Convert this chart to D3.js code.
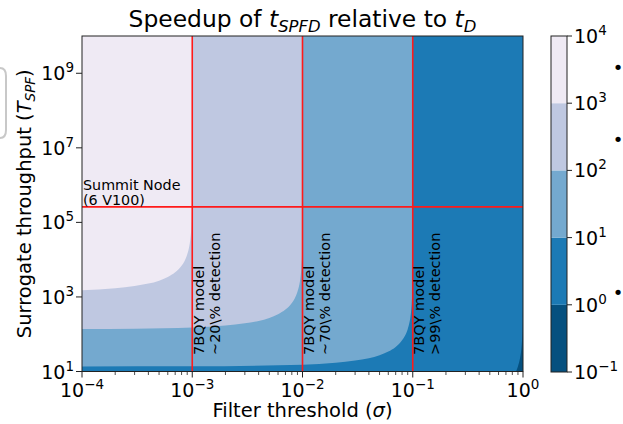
<!DOCTYPE html>
<html><head><meta charset="utf-8">
<script src="https://cdn.jsdelivr.net/npm/d3@7"></script>
<style>body{margin:0;background:#fff} svg{display:block;font-family:"DejaVu Sans",sans-serif}</style>
</head><body><svg id="c" width="623" height="424"></svg>
<script>
// ---- data ----
const levels = [1e-1, 1e0, 1e1, 1e2, 1e3, 1e4];
const bandColors = ["#05507f", "#1c7ab5", "#74a9cf", "#bfc8e1", "#efeaf4"];
const xTicks = [1e-4, 1e-3, 1e-2, 1e-1, 1e0];
const xTickExp = ["−4", "−3", "−2", "−1", "0"];
const yTicks = [1e1, 1e3, 1e5, 1e7, 1e9];
const yTickExp = ["1", "3", "5", "7", "9"];
const cbTicks = [1e-1, 1e0, 1e1, 1e2, 1e3, 1e4];
const cbTickExp = ["−1", "0", "1", "2", "3", "4"];
// contour boundaries [sigma, T_SPF] (speedup = level)
const contour1e0 = [[1e-4,1.37],[0.5,2.74],[0.8,6.85],[0.85,9.13],[0.87,10.5],[0.9,13.7],[0.93,19.6],[0.95,27.4],[0.97,45.7],[0.98,68.5],[0.99,137],[0.995,274],[0.998,685],[0.999,1370],[1,1e11]];
const contour1e1 = [[1e-4,13.7],[1e-3,13.8],[1e-2,15.2],[2e-2,17.1],[3e-2,19.6],[4e-2,22.8],[5e-2,27.4],[6e-2,34.3],[7e-2,45.7],[7.5e-2,54.8],[8e-2,68.5],[8.5e-2,91.3],[9e-2,137],[9.3e-2,196],[9.5e-2,274],[9.7e-2,457],[9.8e-2,685],[9.9e-2,1370],[9.95e-2,2740],[9.98e-2,6850],[9.99e-2,13700],[9.999e-2,137000],[1e-1,1e11]];
const contour1e2 = [[1e-4,138],[3e-4,141],[1e-3,152],[2e-3,171],[3e-3,196],[4e-3,228],[5e-3,274],[6e-3,343],[7e-3,457],[7.5e-3,548],[8e-3,685],[8.5e-3,913],[9e-3,1370],[9.3e-3,1960],[9.5e-3,2740],[9.7e-3,4570],[9.8e-3,6850],[9.9e-3,13700],[9.95e-3,27400],[9.98e-3,68500],[9.99e-3,137000],[9.999e-3,1.37e6],[1e-2,1e11]];
const contour1e3 = [[1e-4,1520],[2e-4,1710],[3e-4,1960],[4e-4,2280],[5e-4,2740],[6e-4,3430],[7e-4,4570],[8e-4,6850],[8.5e-4,9130],[9e-4,13700],[9.3e-4,19600],[9.5e-4,27400],[9.7e-4,45700],[9.8e-4,68500],[9.9e-4,137000],[9.95e-4,274000],[9.98e-4,685000],[9.99e-4,1.37e6],[9.995e-4,2.74e6],[9.999e-4,1.37e7],[1e-3,1e11]];
const contours = [contour1e0, contour1e1, contour1e2, contour1e3];
const modelSigmas = [1e-3, 1e-2, 1e-1];
const modelLabels = [["7BQY model", "∼20\\% detection"], ["7BQY model", "∼70\\% detection"], ["7BQY model", ">99\\% detection"]];
const summitT = 2.6e5;
const summitLabel = ["Summit Node", "(6 V100)"];

// ---- layout ----
const svg = d3.select("#c");
const L = 82, R = 523, T = 36, B = 371.5;
const x = d3.scaleLog().domain([1e-4, 1]).range([L, R]);
const y = d3.scaleLog().domain([1e1, 1e10]).range([B, T]);

svg.append("defs").append("clipPath").attr("id", "pc")
  .append("rect").attr("x", L).attr("y", T).attr("width", R - L).attr("height", B - T);

const g = svg.append("g").attr("clip-path", "url(#pc)");
g.append("rect").attr("x", L).attr("y", T).attr("width", R - L).attr("height", B - T).attr("fill", bandColors[0]);
const line = d3.line().x(d => x(d[0])).y(d => Math.max(-1000, Math.min(2000, y(d[1])))).curve(d3.curveMonotoneX);
contours.forEach((c, i) => {
  const p = line(c) + "L" + x(1e-4) + "," + y(1e11) + "Z";
  g.append("path").attr("d", p).attr("fill", bandColors[i + 1]);
});

// red lines
modelSigmas.forEach(s => {
  svg.append("line").attr("x1", x(s)).attr("x2", x(s)).attr("y1", T).attr("y2", B)
    .attr("stroke", "#ff1a1a").attr("stroke-width", 1.6);
});
svg.append("line").attr("x1", L).attr("x2", R).attr("y1", y(summitT)).attr("y2", y(summitT))
  .attr("stroke", "#ff1a1a").attr("stroke-width", 1.6);

// labels
summitLabel.forEach((t, i) => {
  svg.append("text").attr("x", L + 1).attr("y", y(summitT) - 17 + i * 15).attr("font-size", 14.3).text(t);
});
modelSigmas.forEach((s, k) => {
  modelLabels[k].forEach((t, i) => {
    svg.append("text").attr("transform", `translate(${x(s) + 11.5 + i * 16},355) rotate(-90)`)
      .attr("font-size", 14.5).text(t);
  });
});

// spines
svg.append("rect").attr("x", L).attr("y", T).attr("width", R - L).attr("height", B - T)
  .attr("fill", "none").attr("stroke", "#222").attr("stroke-width", 1);

// x ticks
const minor = [];
for (let e = -4; e < 0; e++) for (let m = 2; m <= 9; m++) minor.push(m * Math.pow(10, e));
minor.forEach(v => svg.append("line").attr("x1", x(v)).attr("x2", x(v)).attr("y1", B).attr("y2", B + 3.5).attr("stroke", "#222").attr("stroke-width", 0.8));
xTicks.forEach((v, i) => {
  svg.append("line").attr("x1", x(v)).attr("x2", x(v)).attr("y1", B).attr("y2", B + 6).attr("stroke", "#222").attr("stroke-width", 1);
  const t = svg.append("text").attr("x", x(v)).attr("y", 397).attr("text-anchor", "middle").attr("font-size", 19).text("10");
  t.append("tspan").attr("dy", -8).attr("font-size", 13.5).text(xTickExp[i]);
});
// y ticks
yTicks.forEach((v, i) => {
  svg.append("line").attr("x1", L - 6).attr("x2", L).attr("y1", y(v)).attr("y2", y(v)).attr("stroke", "#222").attr("stroke-width", 1);
  const t = svg.append("text").attr("x", L - 8).attr("y", y(v) + 7).attr("text-anchor", "end").attr("font-size", 19).text("10");
  t.append("tspan").attr("dy", -8).attr("font-size", 13.5).text(yTickExp[i]);
});

// axis labels
const xl = svg.append("text").attr("x", (L + R) / 2).attr("y", 417).attr("text-anchor", "middle").attr("font-size", 19.5);
xl.append("tspan").text("Filter threshold (");
xl.append("tspan").attr("font-style", "italic").text("σ");
xl.append("tspan").text(")");
const yl = svg.append("text").attr("transform", `translate(31,${(T + B) / 2}) rotate(-90)`).attr("text-anchor", "middle").attr("font-size", 19.5);
yl.append("tspan").text("Surrogate throughput (");
yl.append("tspan").attr("font-style", "italic").text("T");
yl.append("tspan").attr("font-style", "italic").attr("font-size", 13.5).attr("dy", 4).text("SPF");
yl.append("tspan").attr("dy", -4).text(")");

// title
const tt = svg.append("text").attr("x", (L + R) / 2).attr("y", 27).attr("text-anchor", "middle").attr("font-size", 23.4);
tt.append("tspan").text("Speedup of ");
tt.append("tspan").attr("font-style", "italic").text("t");
tt.append("tspan").attr("font-style", "italic").attr("font-size", 16.4).attr("dy", 5).text("SPFD");
tt.append("tspan").attr("dy", -5).text(" relative to ");
tt.append("tspan").attr("font-style", "italic").text("t");
tt.append("tspan").attr("font-style", "italic").attr("font-size", 16.4).attr("dy", 5).text("D");

// colorbar
const cx0 = 551, cx1 = 567;
const cy = d3.scaleLog().domain([1e-1, 1e4]).range([372, 36]);
bandColors.forEach((c, i) => {
  svg.append("rect").attr("x", cx0).attr("width", cx1 - cx0).attr("y", cy(levels[i + 1])).attr("height", cy(levels[i]) - cy(levels[i + 1])).attr("fill", c);
});
svg.append("rect").attr("x", cx0).attr("y", 36).attr("width", cx1 - cx0).attr("height", 336).attr("fill", "none").attr("stroke", "#222").attr("stroke-width", 1);
cbTicks.forEach((v, i) => {
  svg.append("line").attr("x1", cx1).attr("x2", cx1 + 5).attr("y1", cy(v)).attr("y2", cy(v)).attr("stroke", "#222");
  const t = svg.append("text").attr("x", cx1 + 7).attr("y", cy(v) + 7).attr("font-size", 19).text("10");
  t.append("tspan").attr("dy", -8).attr("font-size", 13.5).text(cbTickExp[i]);
});

// slide residue: bullets at right, gray box edge at left
[68, 140, 293].forEach(v => svg.append("text").attr("x", 618).attr("y", v + 6).attr("text-anchor", "middle").attr("font-size", 18).text("•"));
svg.append("path").attr("d", "M0,68 Q6,68 6,76 L6,130 Q6,138 0,138").attr("fill", "none").attr("stroke", "#c8c8c8").attr("stroke-width", 2);
</script></body></html>
